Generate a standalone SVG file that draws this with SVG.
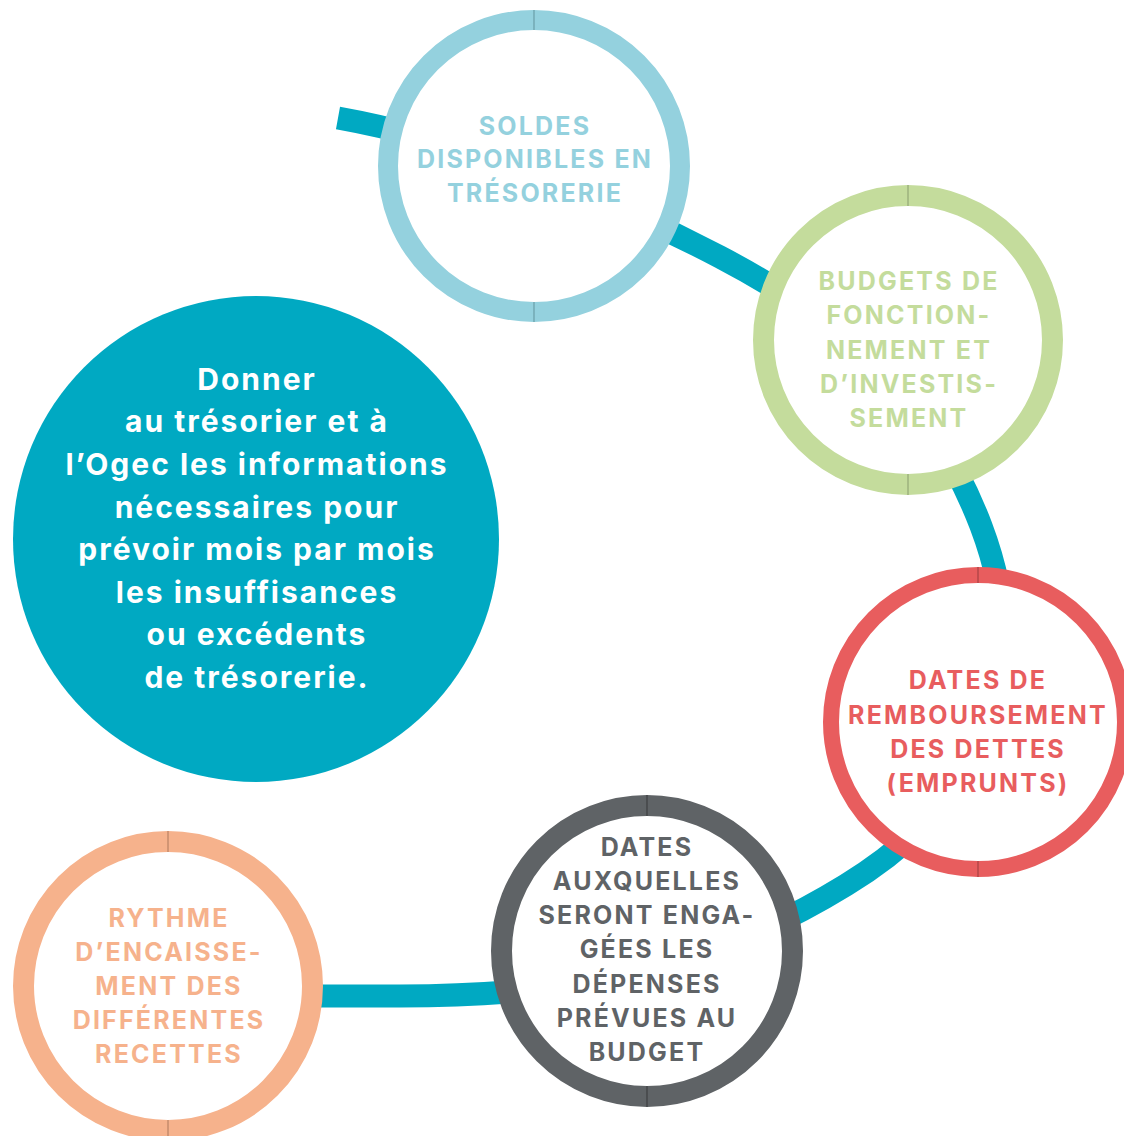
<svg xmlns="http://www.w3.org/2000/svg" width="1124" height="1136" viewBox="0 0 1124 1136">
<style>
.ring{fill:#fff}
.lbl{font-family:Inter,"Liberation Sans",sans-serif;font-weight:700;font-size:25px;text-anchor:middle;letter-spacing:2.2px}
.main{font-family:Inter,"Liberation Sans",sans-serif;font-weight:700;font-size:30px;text-anchor:middle;fill:#fff;letter-spacing:2px}
.tick{stroke-width:1.2}
</style>
<rect width="1124" height="1136" fill="#fff"/>
<g id="connectors">
<path d="M338,118 C466,141 605,197 720,257 C844,322 931,395 981,526 C1038,676 982,802 846,885 C701,974 570,996 400,996 L250,996" fill="none" stroke="#00a9c2" stroke-width="23"/>
</g>
<g id="main">
<circle cx="256" cy="539" r="243" fill="#00a9c2"/>
<text class="main"><tspan x="257" y="390">Donner</tspan><tspan x="257" y="432">au trésorier et à</tspan><tspan x="257" y="475">l’Ogec les informations</tspan><tspan x="257" y="518">nécessaires pour</tspan><tspan x="257" y="560">prévoir mois par mois</tspan><tspan x="257" y="603">les insuffisances</tspan><tspan x="257" y="645">ou excédents</tspan><tspan x="257" y="688">de trésorerie.</tspan></text>
</g>
<g id="soldes">
<circle class="ring" cx="534" cy="166" r="146" stroke="#94d1de" stroke-width="20"/>
<path class="tick" d="M534,10V30M534,302V322" stroke="#6b9ea8"/>
<text class="lbl" fill="#94d1de"><tspan x="535" y="135">SOLDES</tspan><tspan x="535" y="168">DISPONIBLES EN</tspan><tspan x="535" y="202">TRÉSORERIE</tspan></text>
</g>
<g id="budgets">
<circle class="ring" cx="908" cy="340" r="144.5" stroke="#c4dc9c" stroke-width="21"/>
<path class="tick" d="M908,185V206M908,474V495" stroke="#93a876"/>
<text class="lbl" fill="#c4dc9c"><tspan x="909" y="290">BUDGETS DE</tspan><tspan x="909" y="324">FONCTION-</tspan><tspan x="909" y="359">NEMENT ET</tspan><tspan x="909" y="393">D’INVESTIS-</tspan><tspan x="909" y="427">SEMENT</tspan></text>
</g>
<g id="remboursement">
<circle class="ring" cx="978" cy="722" r="147" stroke="#e85d5e" stroke-width="16"/>
<path class="tick" d="M978,567V583M978,861V877" stroke="#a84244"/>
<text class="lbl" fill="#e85d5e"><tspan x="978" y="689">DATES DE</tspan><tspan x="978" y="724">REMBOURSEMENT</tspan><tspan x="978" y="758">DES DETTES</tspan><tspan x="978" y="792">(EMPRUNTS)</tspan></text>
</g>
<g id="depenses">
<circle class="ring" cx="647" cy="951" r="145.5" stroke="#5f6366" stroke-width="21"/>
<path class="tick" d="M647,795V816M647,1086V1107" stroke="#3e4042"/>
<text class="lbl" fill="#5f6366"><tspan x="647" y="856">DATES</tspan><tspan x="647" y="890">AUXQUELLES</tspan><tspan x="647" y="924">SERONT ENGA-</tspan><tspan x="647" y="958">GÉES LES</tspan><tspan x="647" y="993">DÉPENSES</tspan><tspan x="647" y="1027">PRÉVUES AU</tspan><tspan x="647" y="1061">BUDGET</tspan></text>
</g>
<g id="recettes">
<circle class="ring" cx="168" cy="986" r="144.5" stroke="#f6b28c" stroke-width="21"/>
<path class="tick" d="M168,831V852M168,1120V1136" stroke="#b98364"/>
<text class="lbl" fill="#f6b28c"><tspan x="169" y="927">RYTHME</tspan><tspan x="169" y="961">D’ENCAISSE-</tspan><tspan x="169" y="995">MENT DES</tspan><tspan x="169" y="1029">DIFFÉRENTES</tspan><tspan x="169" y="1063">RECETTES</tspan></text>
</g>
</svg>
